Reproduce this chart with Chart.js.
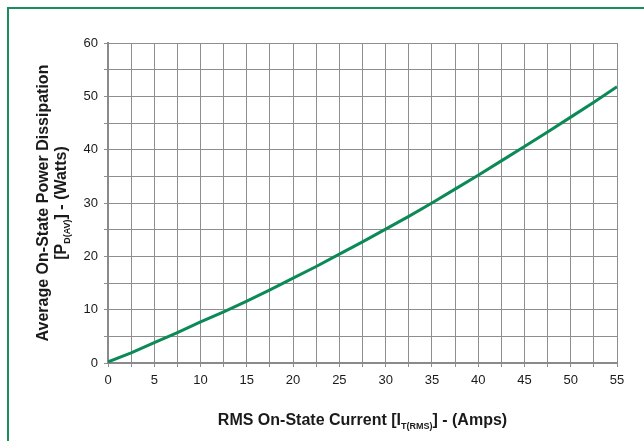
<!DOCTYPE html>
<html lang="en">
<head>
<meta charset="UTF-8">
<title>Average On-State Power Dissipation</title>
<script src="https://cdn.jsdelivr.net/npm/chart.js"></script>
<style>
    html, body { margin: 0; padding: 0; background: #fff; }
    #wrap { position: relative; width: 644px; height: 441px; overflow: hidden; }
    #frame {
        position: absolute; left: 7px; top: 7px; width: 700px; height: 500px;
        border: 2px solid #1b8c5c; box-sizing: border-box;
    }
    canvas { position: absolute; left: 0; top: 0; }
</style>
</head>
<body>
<div id="wrap">
    <div id="frame"></div>
    <canvas id="chart" width="644" height="441"></canvas>
</div>
<script>
// current (A) and power (W)
const current = [0, 2.5, 5, 7.5, 10, 12.5, 15, 17.5, 20, 22.5, 25, 27.5, 30,
                 32.5, 35, 37.5, 40, 42.5, 45, 47.5, 50, 52.5, 55];
const power = [0.2, 1.9, 3.8, 5.7, 7.7, 9.6, 11.6, 13.7, 15.9, 18.1, 20.4, 22.7, 25.1,
               27.5, 30.0, 32.6, 35.2, 37.9, 40.6, 43.3, 46.1, 48.9, 51.8];
const xTickLabels = ['0', '5', '10', '15', '20', '25', '30', '35', '40', '45', '50', '55'];
const yTickLabels = ['0', '10', '20', '30', '40', '50', '60'];

const FONT = '"Liberation Sans", Arial, sans-serif';

// draws the axis titles with their subscripts
const titles = {
    id: 'titles',
    afterDraw(chart) {
        const ctx = chart.ctx;
        const area = chart.chartArea;
        const big = 'bold 16px ' + FONT;
        const small = 'bold 9px ' + FONT;

        function parts(list) {
            let w = 0;
            list.forEach(p => { ctx.font = p[1] ? small : big; w += ctx.measureText(p[0]).width; });
            return w;
        }
        function run(list, x, y) {
            list.forEach(p => {
                ctx.font = p[1] ? small : big;
                ctx.fillText(p[0], x, y + (p[1] ? 6 : 0));
                x += ctx.measureText(p[0]).width;
            });
        }

        ctx.save();
        ctx.fillStyle = '#1a1a1a';
        ctx.textBaseline = 'middle';
        ctx.textAlign = 'left';

        // x title
        const xt = [['RMS On-State Current [I', 0], ['T(RMS)', 1], ['] - (Amps)', 0]];
        const cx = (area.left + area.right) / 2;
        run(xt, cx - parts(xt) / 2, 421);

        // y title, two lines
        const cy = (area.top + area.bottom) / 2;
        ctx.translate(0, cy);
        ctx.rotate(-Math.PI / 2);
        const l1 = [['Average On-State Power Dissipation', 0]];
        const l2 = [['[P', 0], ['D(AV)', 1], ['] - (Watts)', 0]];
        run(l1, -parts(l1) / 2, 44);
        run(l2, -parts(l2) / 2, 62);
        ctx.restore();
    }
};

new Chart(document.getElementById('chart'), {
    type: 'line',
    data: {
        datasets: [{
            data: current.map((x, i) => ({ x: x, y: power[i] })),
            borderColor: '#0b8a57',
            borderWidth: 3,
            pointRadius: 0,
            tension: 0,
            fill: false
        }]
    },
    options: {
        responsive: false,
        animation: false,
        layout: { padding: { left: 0, top: 43, right: 27, bottom: 0 } },
        plugins: { legend: { display: false }, tooltip: { enabled: false } },
        scales: {
            x: {
                type: 'linear', min: 0, max: 55,
                afterFit: s => { s.height = 78; },
                afterBuildTicks: s => { s.ticks = current.map(v => ({ value: v })); },
                grid: { color: '#8e8e8e', lineWidth: 1, tickLength: 4 },
                border: { color: '#8a8a8a', width: 2 },
                ticks: {
                    autoSkip: false, maxRotation: 0, padding: 6,
                    color: '#1a1a1a', font: { family: FONT, size: 13 },
                    callback: v => (v % 5 === 0 ? xTickLabels[v / 5] : '')
                }
            },
            y: {
                type: 'linear', min: 0, max: 60,
                afterFit: s => { s.width = 108; },
                afterBuildTicks: s => {
                    const t = [];
                    for (let i = 0; i <= 12; i++) t.push({ value: i * 5 });
                    s.ticks = t;
                },
                grid: { color: '#8e8e8e', lineWidth: 1, tickLength: 4 },
                border: { color: '#8a8a8a', width: 2 },
                ticks: {
                    autoSkip: false, padding: 6,
                    color: '#1a1a1a', font: { family: FONT, size: 13 },
                    callback: v => (v % 10 === 0 ? yTickLabels[v / 10] : '')
                }
            }
        }
    },
    plugins: [titles]
});
</script>
</body>
</html>
